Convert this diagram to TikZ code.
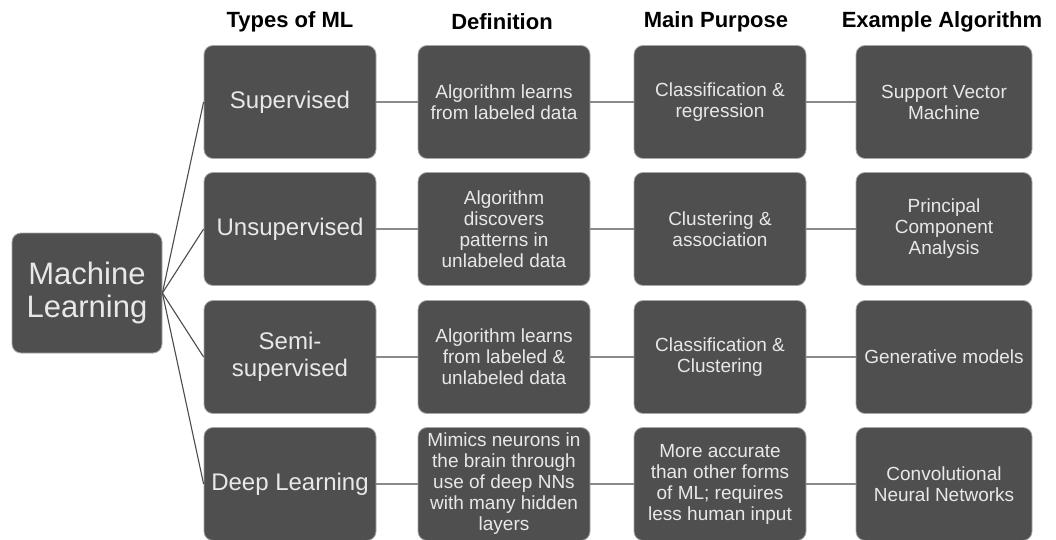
\documentclass[tikz,border=0pt]{standalone}
\usepackage{fontspec}
\setmainfont{Liberation Sans}
\definecolor{boxgray}{HTML}{4F4F4F}
\definecolor{boxedge}{HTML}{A8A8A8}
\definecolor{boxtext}{HTML}{E8E8E8}
\definecolor{linkgray}{HTML}{8A8A8A}
\begin{document}
\begin{tikzpicture}[x=1pt,y=-1pt,
    cell/.style={draw=boxedge, line width=0.8pt, fill=boxgray, text=boxtext, rounded corners=9pt,
        minimum width=172pt, minimum height=113pt, inner sep=0pt, align=center,
        font=\fontsize{19}{21}\selectfont},
    typecell/.style={cell, font=\fontsize{24}{27}\selectfont},
    rootcell/.style={cell, minimum width=150pt, minimum height=120pt, font=\fontsize{31}{33}\selectfont},
    head/.style={font=\bfseries\fontsize{22}{24}\selectfont, text=black},
    link/.style={draw=linkgray, line width=1.3pt},
    fan/.style={draw=black!70, line width=1.1pt}]
    \useasboundingbox (0,0) rectangle (1056,540);
    \node[head] (HType) at (290,22) {Types of ML};
    \node[head] (HDef) at (502,22) {Definition};
    \node[head] (HPurp) at (716,22) {Main Purpose};
    \node[head] (HAlg) at (942,22) {Example Algorithm};
    \node[rootcell] (ML) at (87,293) {Machine\\Learning};
    \node[typecell] (Sup) at (290,102) {Supervised};
    \node[typecell] (Unsup) at (290,229) {Unsupervised};
    \node[typecell] (Semi) at (290,357) {Semi-\\supervised};
    \node[typecell] (Deep) at (290,484) {Deep Learning};
    \node[cell] (SupDef) at (504,102) {Algorithm learns\\from labeled data};
    \node[cell] (UnsupDef) at (504,229) {Algorithm\\discovers\\patterns in\\unlabeled data};
    \node[cell] (SemiDef) at (504,357) {Algorithm learns\\from labeled \&\\unlabeled data};
    \node[cell] (DeepDef) at (504,484) {Mimics neurons in\\the brain through\\use of deep NNs\\with many hidden\\layers};
    \node[cell] (SupPurp) at (720,102) {Classification \&\\regression};
    \node[cell] (UnsupPurp) at (720,229) {Clustering \&\\association};
    \node[cell] (SemiPurp) at (720,357) {Classification \&\\Clustering};
    \node[cell] (DeepPurp) at (720,484) {More accurate\\than other forms\\of ML; requires\\less human input};
    \node[cell, minimum width=176pt] (SupAlg) at (944,102) {Support Vector\\Machine};
    \node[cell, minimum width=176pt] (UnsupAlg) at (944,229) {Principal\\Component\\Analysis};
    \node[cell, minimum width=176pt] (SemiAlg) at (944,357) {Generative models};
    \node[cell, minimum width=176pt] (DeepAlg) at (944,484) {Convolutional\\Neural Networks};
    \draw[fan] (ML.east) -- (Sup.west);
    \draw[fan] (ML.east) -- (Unsup.west);
    \draw[fan] (ML.east) -- (Semi.west);
    \draw[fan] (ML.east) -- (Deep.west);
    \draw[link] (Sup) -- (SupDef);
    \draw[link] (SupDef) -- (SupPurp);
    \draw[link] (SupPurp) -- (SupAlg);
    \draw[link] (Unsup) -- (UnsupDef);
    \draw[link] (UnsupDef) -- (UnsupPurp);
    \draw[link] (UnsupPurp) -- (UnsupAlg);
    \draw[link] (Semi) -- (SemiDef);
    \draw[link] (SemiDef) -- (SemiPurp);
    \draw[link] (SemiPurp) -- (SemiAlg);
    \draw[link] (Deep) -- (DeepDef);
    \draw[link] (DeepDef) -- (DeepPurp);
    \draw[link] (DeepPurp) -- (DeepAlg);
\end{tikzpicture}
\end{document}
